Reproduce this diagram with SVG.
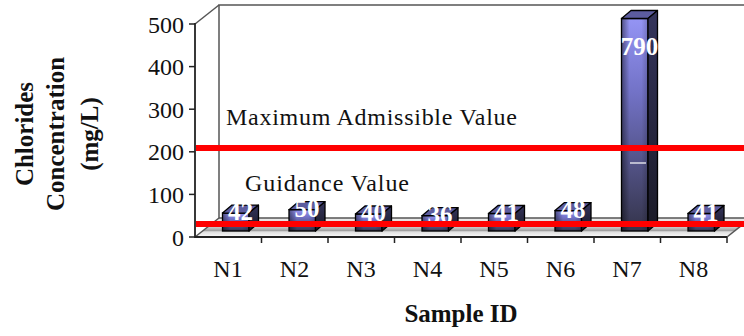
<svg xmlns="http://www.w3.org/2000/svg" width="744" height="336" viewBox="0 0 744 336">
  <style>
    .tick { font-family: "Liberation Serif", "Times New Roman", serif; font-size: 24px; fill: #111; }
    .title { font-family: "Liberation Serif", "Times New Roman", serif; font-size: 25px; font-weight: bold; fill: #111; }
    .note { font-family: "Liberation Serif", "Times New Roman", serif; font-size: 24px; fill: #111; }
    .val { font-family: "Liberation Serif", "Times New Roman", serif; font-size: 25px; font-weight: bold; fill: #fff; text-anchor: middle; }
    .wall { fill: none; stroke: #555; stroke-width: 1.5; }
    .axis { fill: none; stroke: #222; stroke-width: 1.8; }
    .front { fill: url(#frontGrad); stroke: #000; stroke-width: 1.3; }
    .shade { fill: url(#shadeGrad); stroke: none; }
    .top { fill: #5c5c9e; stroke: #000; stroke-width: 1.3; stroke-linejoin: round; }
    .side { fill: url(#sideGrad); stroke: #000; stroke-width: 1.3; stroke-linejoin: round; }
    .limit { stroke: #ff0000; stroke-width: 6; fill: none; }
  </style>
  <defs>
    <linearGradient id="frontGrad" x1="0" y1="0" x2="0" y2="1">
      <stop offset="0" stop-color="#9494f4"/>
      <stop offset="0.35" stop-color="#7272c6"/>
      <stop offset="1" stop-color="#34344a"/>
    </linearGradient>
    <linearGradient id="shadeGrad" x1="0" y1="0" x2="1" y2="0">
      <stop offset="0" stop-color="#000" stop-opacity="0.45"/>
      <stop offset="0.3" stop-color="#000" stop-opacity="0"/>
      <stop offset="0.75" stop-color="#000" stop-opacity="0"/>
      <stop offset="1" stop-color="#000" stop-opacity="0.2"/>
    </linearGradient>
    <linearGradient id="sideGrad" x1="0" y1="0" x2="0" y2="1">
      <stop offset="0" stop-color="#34345c"/>
      <stop offset="1" stop-color="#1a1a26"/>
    </linearGradient>
    <linearGradient id="floorGrad" gradientUnits="userSpaceOnUse" x1="0" y1="218" x2="0" y2="237">
      <stop offset="0" stop-color="#ececec"/>
      <stop offset="0.45" stop-color="#cfcfcf"/>
      <stop offset="0.68" stop-color="#9c9c9c"/>
      <stop offset="0.72" stop-color="#dedede"/>
      <stop offset="1" stop-color="#fbfbfb"/>
    </linearGradient>
  </defs>

  <rect width="744" height="336" fill="#fff"/>

  <!-- plot box: back wall, side wall and floor -->
  <g id="walls">
    <polygon points="195,237 727,237 751,218 219,218" fill="url(#floorGrad)"/>
    <polyline class="wall" points="219,218 219,5 744,5"/>
    <line class="wall" x1="219" y1="218" x2="744" y2="218" stroke="#777"/>
    <line class="wall" x1="195" y1="24" x2="219" y2="5"/>
    <line class="wall" x1="195" y1="237" x2="219" y2="218"/>
    <line class="wall" x1="727" y1="237" x2="751" y2="218"/>
  </g>

  <!-- axes and ticks -->
  <g id="axes">
    <line class="axis" x1="195" y1="23" x2="195" y2="238"/>
    <line class="axis" x1="195" y1="237" x2="727" y2="237"/>
    <g stroke="#222" stroke-width="1.5">
      <line x1="189" y1="24" x2="195" y2="24"/>
      <line x1="189" y1="66.6" x2="195" y2="66.6"/>
      <line x1="189" y1="109.2" x2="195" y2="109.2"/>
      <line x1="189" y1="151.8" x2="195" y2="151.8"/>
      <line x1="189" y1="194.4" x2="195" y2="194.4"/>
      <line x1="189" y1="237" x2="195" y2="237"/>
      <line x1="261.5" y1="237" x2="261.5" y2="243"/>
      <line x1="328" y1="237" x2="328" y2="243"/>
      <line x1="394.5" y1="237" x2="394.5" y2="243"/>
      <line x1="461" y1="237" x2="461" y2="243"/>
      <line x1="527.5" y1="237" x2="527.5" y2="243"/>
      <line x1="594" y1="237" x2="594" y2="243"/>
      <line x1="660.5" y1="237" x2="660.5" y2="243"/>
      <line x1="727" y1="237" x2="727" y2="243"/>
    </g>
    <g class="tick" text-anchor="end">
      <text x="184" y="32.5">500</text>
      <text x="184" y="75">400</text>
      <text x="184" y="117.5">300</text>
      <text x="184" y="160">200</text>
      <text x="184" y="203">100</text>
      <text x="184" y="245.5">0</text>
    </g>
    <g class="tick" text-anchor="middle">
      <text x="228" y="277">N1</text>
      <text x="294.5" y="277">N2</text>
      <text x="361" y="277">N3</text>
      <text x="427.5" y="277">N4</text>
      <text x="494" y="277">N5</text>
      <text x="560.5" y="277">N6</text>
      <text x="627" y="277">N7</text>
      <text x="693.5" y="277">N8</text>
    </g>
    <text class="title" x="461" y="322" text-anchor="middle">Sample ID</text>
    <g class="title" text-anchor="middle">
      <text transform="translate(33,134) rotate(-90)">Chlorides</text>
      <text transform="translate(64,134) rotate(-90)">Concentration</text>
      <text transform="translate(98,134) rotate(-90)">(mg/L)</text>
    </g>
  </g>

  <!-- bars: front face, top face, side face -->
  <g id="bar-N1">
    <rect class="front" x="222.5" y="213.1" width="26.5" height="17.9"/>
    <rect class="shade" x="222.5" y="213.1" width="26.5" height="17.9"/>
    <polygon class="top" points="222.5,213.1 232,205.1 258.5,205.1 249,213.1"/>
    <polygon class="side" points="249,213.1 258.5,205.1 258.5,223 249,231"/>
  </g>
  <g id="bar-N2">
    <rect class="front" x="289" y="209.7" width="26.5" height="21.3"/>
    <rect class="shade" x="289" y="209.7" width="26.5" height="21.3"/>
    <polygon class="top" points="289,209.7 298.5,201.7 325,201.7 315.5,209.7"/>
    <polygon class="side" points="315.5,209.7 325,201.7 325,223 315.5,231"/>
  </g>
  <g id="bar-N3">
    <rect class="front" x="355.5" y="214" width="26.5" height="17"/>
    <rect class="shade" x="355.5" y="214" width="26.5" height="17"/>
    <polygon class="top" points="355.5,214 365,206 391.5,206 382,214"/>
    <polygon class="side" points="382,214 391.5,206 391.5,223 382,231"/>
  </g>
  <g id="bar-N4">
    <rect class="front" x="422" y="215.7" width="26.5" height="15.3"/>
    <rect class="shade" x="422" y="215.7" width="26.5" height="15.3"/>
    <polygon class="top" points="422,215.7 431.5,207.7 458,207.7 448.5,215.7"/>
    <polygon class="side" points="448.5,215.7 458,207.7 458,223 448.5,231"/>
  </g>
  <g id="bar-N5">
    <rect class="front" x="488.5" y="213.5" width="26.5" height="17.5"/>
    <rect class="shade" x="488.5" y="213.5" width="26.5" height="17.5"/>
    <polygon class="top" points="488.5,213.5 498,205.5 524.5,205.5 515,213.5"/>
    <polygon class="side" points="515,213.5 524.5,205.5 524.5,223 515,231"/>
  </g>
  <g id="bar-N6">
    <rect class="front" x="555" y="210.6" width="26.5" height="20.4"/>
    <rect class="shade" x="555" y="210.6" width="26.5" height="20.4"/>
    <polygon class="top" points="555,210.6 564.5,202.6 591,202.6 581.5,210.6"/>
    <polygon class="side" points="581.5,210.6 591,202.6 591,223 581.5,231"/>
  </g>
  <g id="bar-N7">
    <rect class="front" x="621.5" y="18.5" width="26.5" height="212.5"/>
    <rect class="shade" x="621.5" y="18.5" width="26.5" height="212.5"/>
    <polygon class="top" points="621.5,18.5 631,10.5 657.5,10.5 648,18.5"/>
    <polygon class="side" points="648,18.5 657.5,10.5 657.5,223 648,231"/>
    <line x1="630" y1="163" x2="646" y2="163" stroke="#fff" stroke-width="1.2"/>
  </g>
  <g id="bar-N8">
    <rect class="front" x="688" y="213.5" width="26.5" height="17.5"/>
    <rect class="shade" x="688" y="213.5" width="26.5" height="17.5"/>
    <polygon class="top" points="688,213.5 697.5,205.5 724,205.5 714.5,213.5"/>
    <polygon class="side" points="714.5,213.5 724,205.5 724,223 714.5,231"/>
  </g>

  <!-- data labels -->
  <g id="values">
    <text class="val" x="240.5" y="220">42</text>
    <text class="val" x="307" y="217">50</text>
    <text class="val" x="373.5" y="221">40</text>
    <text class="val" x="440" y="223">36</text>
    <text class="val" x="506.5" y="220.5">41</text>
    <text class="val" x="573" y="217.5">48</text>
    <text class="val" x="639.5" y="55">790</text>
    <text class="val" x="706" y="220.5">41</text>
  </g>

  <!-- reference limits -->
  <g id="limits">
    <line class="limit" x1="196" y1="148" x2="744" y2="148"/>
    <line class="limit" x1="196" y1="224" x2="744" y2="224"/>
    <text class="note" x="226" y="124.5" textLength="291" lengthAdjust="spacing">Maximum Admissible Value</text>
    <text class="note" x="245" y="190.5" textLength="164" lengthAdjust="spacing">Guidance Value</text>
  </g>
</svg>
